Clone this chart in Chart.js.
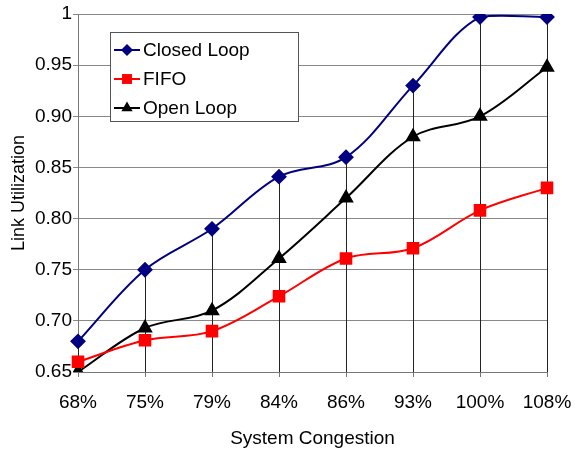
<!DOCTYPE html>
<html>
<head>
<meta charset="utf-8">
<script src="https://cdn.jsdelivr.net/npm/chart.js@4/dist/chart.umd.min.js"></script>
<style>
  html, body { margin: 0; padding: 0; background: #fff; }
  #wrap { width: 579px; height: 452px; }
</style>
</head>
<body>
<div id="wrap"><canvas id="chart" width="579" height="452"></canvas></div>
<script>
let labels = ['68%', '75%', '79%', '84%', '86%', '93%', '100%', '108%'];
let closedLoop = [0.68, 0.75, 0.79, 0.841, 0.86, 0.93, 0.997, 0.997];
let fifo = [0.66, 0.681, 0.69, 0.724, 0.761, 0.771, 0.808, 0.83];
let openLoop = [0.65, 0.693, 0.71, 0.761, 0.82, 0.88, 0.90, 0.948];

const font = 'Liberation Sans, Arial, sans-serif';
const fontSize = 19;

// vertical drop lines from the axis up to the highest point of each category
let dropLines = {
    id: 'dropLines',
    beforeDatasetsDraw(chart) {
        let ctx = chart.ctx, x = chart.scales.x, y = chart.scales.y;
        ctx.save();
        ctx.strokeStyle = '#222';
        ctx.lineWidth = 1;
        labels.forEach((l, i) => {
            let top = Math.max(closedLoop[i], fifo[i], openLoop[i]);
            let px = Math.round(x.getPixelForValue(i)) + 0.5;
            ctx.beginPath();
            ctx.moveTo(px, y.getPixelForValue(0.65));
            ctx.lineTo(px, y.getPixelForValue(top));
            ctx.stroke();
        });
        ctx.restore();
    }
};

// boxed legend sitting inside the plot area
let boxLegend = {
    id: 'boxLegend',
    afterDatasetsDraw(chart) {
        let ctx = chart.ctx;
        let bx = 110.5, by = 32.5, bw = 188, bh = 89;
        ctx.save();
        ctx.fillStyle = '#fff';
        ctx.fillRect(bx, by, bw, bh);
        ctx.strokeStyle = '#555';
        ctx.lineWidth = 1;
        ctx.strokeRect(bx, by, bw, bh);
        chart.data.datasets.forEach((ds, i) => {
            let cy = 50 + i * 29;
            ctx.strokeStyle = ds.borderColor;
            ctx.lineWidth = 2;
            ctx.beginPath();
            ctx.moveTo(114, cy);
            ctx.lineTo(140, cy);
            ctx.stroke();
            ctx.fillStyle = ds.pointBackgroundColor;
            Chart.helpers.drawPoint(ctx, {
                pointStyle: ds.pointStyle, radius: ds.pointRadius - 0.5, rotation: 0, borderWidth: 0
            }, 127, cy);
            ctx.fillStyle = '#000';
            ctx.font = fontSize + 'px ' + font;
            ctx.textBaseline = 'middle';
            ctx.fillText(ds.label, 143, cy + 1);
        });
        ctx.restore();
    }
};

let ctx = document.querySelector('#chart').getContext('2d');
const chart = new Chart(ctx, {
    type: 'line',
    data: {
        labels: labels,
        datasets: [{
            label: 'Closed Loop',
            data: closedLoop,
            borderColor: '#000080',
            pointBackgroundColor: '#000080',
            pointBorderColor: '#000080',
            pointStyle: 'rectRot',
            pointRadius: 6.5,
            borderWidth: 2,
            tension: 0.35
        }, {
            label: 'FIFO',
            data: fifo,
            borderColor: '#ff0000',
            pointBackgroundColor: '#ff0000',
            pointBorderColor: '#ff0000',
            pointStyle: 'rect',
            pointRadius: 7.5,
            borderWidth: 2,
            tension: 0.35
        }, {
            label: 'Open Loop',
            data: openLoop,
            borderColor: '#000000',
            pointBackgroundColor: '#000000',
            pointBorderColor: '#000000',
            pointStyle: 'triangle',
            pointRadius: 7,
            borderWidth: 2,
            tension: 0.35
        }]
    },
    options: {
        responsive: false,
        animation: false,
        layout: { padding: { left: 0, right: 32, top: 14, bottom: 0 } },
        plugins: {
            legend: { display: false },
            tooltip: { enabled: false }
        },
        scales: {
            x: {
                offset: false,
                grid: { drawOnChartArea: false, drawTicks: true, tickLength: 5, color: '#777' },
                border: { color: '#777', width: 1 },
                ticks: { color: '#000', font: { family: font, size: fontSize }, padding: 14, maxRotation: 0, autoSkip: false },
                title: { display: true, text: 'System Congestion', color: '#000', font: { family: font, size: fontSize }, padding: { top: 4, bottom: 2 } },
                afterFit(s) {
                    s.height = 80;
                    s.paddingLeft = 0;
                    s.paddingRight = 0;
                }
            },
            y: {
                min: 0.65,
                max: 1,
                grid: { color: '#888', lineWidth: 1, tickLength: 5 },
                border: { color: '#777', width: 1 },
                ticks: {
                    stepSize: 0.05,
                    color: '#000',
                    font: { family: font, size: fontSize },
                    padding: 1,
                    callback: v => (Math.abs(v - 1) < 1e-9 ? '1' : v.toFixed(2))
                },
                title: { display: true, text: 'Link Utilization', color: '#000', font: { family: font, size: 18 }, padding: { top: 8, bottom: 2 } },
                afterFit(s) {
                    s.width = 78;
                    s.paddingTop = 0;
                    s.paddingBottom = 0;
                }
            }
        }
    },
    plugins: [dropLines, boxLegend]
});
</script>
</body>
</html>
